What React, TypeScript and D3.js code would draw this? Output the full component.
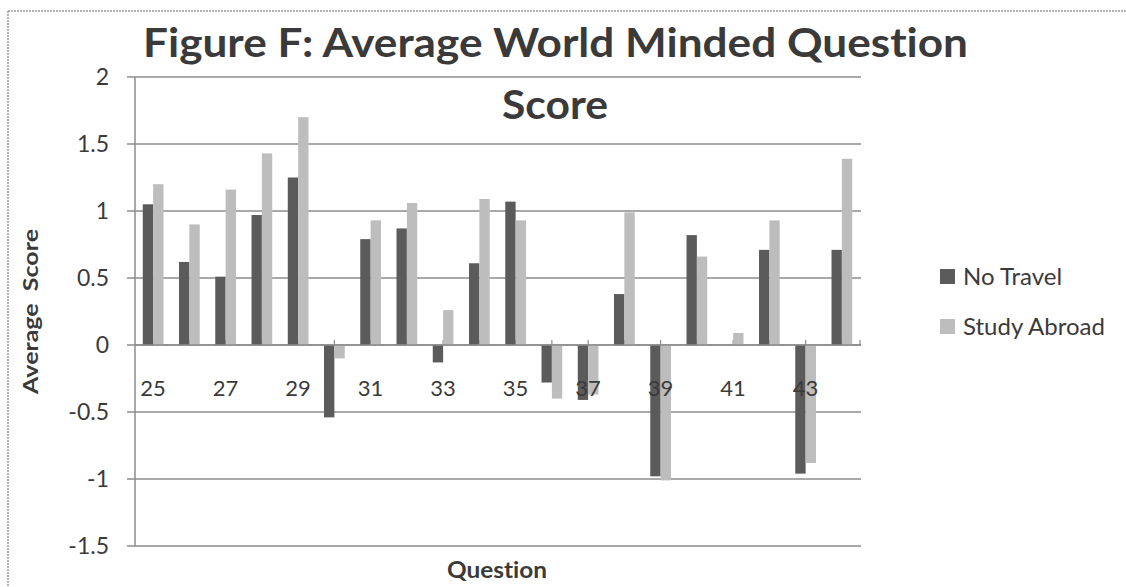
import React from "react";
import * as d3 from "d3";

const questions = ["25","26","27","28","29","30","31","32","33","34","35","36","37","38","39","40","41","42","43","44"];
const noTravel = [1.05, 0.62, 0.51, 0.97, 1.25, -0.54, 0.79, 0.87, -0.13, 0.61, 1.07, -0.28, -0.41, 0.38, -0.98, 0.82, 0.0, 0.71, -0.96, 0.71];
const studyAbroad = [1.20, 0.90, 1.16, 1.43, 1.70, -0.10, 0.93, 1.06, 0.26, 1.09, 0.93, -0.40, -0.37, 0.99, -1.01, 0.66, 0.09, 0.93, -0.88, 1.39];
const yTicks = [2, 1.5, 1, 0.5, 0, -0.5, -1, -1.5];
const seriesNames = ["No Travel", "Study Abroad"];
const titleLines = ["Figure F: Average World Minded Question", "Score"];

const W = 1126, H = 587;
const left = 135, right = 860, top = 77, bottom = 546;
const colors = ["#5b5b5b", "#bdbdbd"];
const gridColor = "#8c8c8c";
const textColor = "#3a3a3a";
const font = "Lato, 'Open Sans', sans-serif";

export default function App() {
  const xc = d3.scaleBand<string>().domain(questions).range([left, right]);
  const y = d3.scaleLinear().domain([-1.5, 2]).range([bottom, top]);
  const bw = xc.bandwidth() / 3.5;
  const series = [noTravel, studyAbroad];
  const cx = (q: string) => (xc(q) as number) + xc.bandwidth() / 2;
  const noLig = { fontVariantLigatures: "none" as const, whiteSpace: "pre" as const };

  return (
    <div style={{ position: "absolute", left: 0, top: 0 }}>
      <svg width={W} height={H} style={{ display: "block", background: "#fff" }}>
        <rect x={0} y={0} width={W} height={H} fill="#fff" />
        {/* outer frame */}
        <line x1={8} x2={8} y1={11} y2={H} stroke="#9a9a9a" strokeWidth={1.5} strokeDasharray="2 1" />
        <line x1={8} x2={W} y1={11} y2={11} stroke="#9a9a9a" strokeWidth={1.5} strokeDasharray="2 1" />

        {/* gridlines */}
        {yTicks.map((t) => (
          <line key={"g" + t} x1={left - 8} x2={right + 1} y1={y(t)} y2={y(t)} stroke={gridColor} strokeWidth={1.5} />
        ))}
        {/* y axis */}
        <line x1={left} x2={left} y1={top} y2={bottom} stroke={gridColor} strokeWidth={1.5} />

        {/* x ticks */}
        {questions.map((q) => (
          <line key={"t" + q} x1={cx(q)} x2={cx(q)} y1={y(0)} y2={y(0) - 5} stroke={gridColor} strokeWidth={1.2} />
        ))}
        <line x1={right} x2={right} y1={y(0)} y2={y(0) - 5} stroke={gridColor} strokeWidth={1.2} />

        {/* bars */}
        {series.map((vals, si) =>
          vals.map((v, i) => {
            const q = questions[i];
            const bx = cx(q) - bw + si * bw;
            const y0 = y(0), y1 = y(v);
            return (
              <rect key={si + "-" + q} x={bx} y={Math.min(y0, y1)} width={bw} height={Math.abs(y1 - y0)} fill={colors[si]} />
            );
          })
        )}
        {/* x axis line */}
        <line x1={left} x2={right + 1} y1={y(0)} y2={y(0)} stroke={gridColor} strokeWidth={1.5} />

        {/* y labels */}
        {yTicks.map((t) => (
          <text key={"yl" + t} x={109} y={y(t)} dy="0.35em" textAnchor="end" fontFamily={font} fontSize={23} fill={textColor}>
            {String(t)}
          </text>
        ))}
        {/* x labels */}
        {questions.map((q, i) =>
          i % 2 === 0 ? (
            <text key={"xl" + q} x={cx(q)} y={396} textAnchor="middle" fontFamily={font} fontSize={22} fill={textColor}>
              {q}
            </text>
          ) : null
        )}

        {/* title */}
        <text x={555.5} y={57} textAnchor="middle" fontFamily={font} fontWeight="bold" fontSize={41} fill={textColor} textLength={825} lengthAdjust="spacingAndGlyphs" style={noLig}>
          {titleLines[0]}
        </text>
        <text x={555} y={119} textAnchor="middle" fontFamily={font} fontWeight="bold" fontSize={41} fill={textColor} textLength={106} lengthAdjust="spacingAndGlyphs" style={noLig}>
          {titleLines[1]}
        </text>

        {/* axis titles */}
        <text x={497} y={578} textAnchor="middle" fontFamily={font} fontWeight="bold" fontSize={23} fill={textColor} textLength={100} lengthAdjust="spacingAndGlyphs" style={noLig}>
          Question
        </text>
        <text transform={`translate(38, ${(top + bottom) / 2}) rotate(-90)`} textAnchor="middle" fontFamily={font} fontWeight="bold" fontSize={21} fill={textColor} textLength={165} lengthAdjust="spacingAndGlyphs" style={noLig}>
          {"Average  Score"}
        </text>

        {/* legend */}
        {seriesNames.map((n, i) => (
          <g key={n}>
            <rect x={940} y={269 + i * 50} width={15} height={15} fill={colors[i]} />
            <text x={963} y={285 + i * 50} fontFamily={font} fontSize={24} fill={textColor} style={noLig}>
              {n}
            </text>
          </g>
        ))}
      </svg>
    </div>
  );
}
